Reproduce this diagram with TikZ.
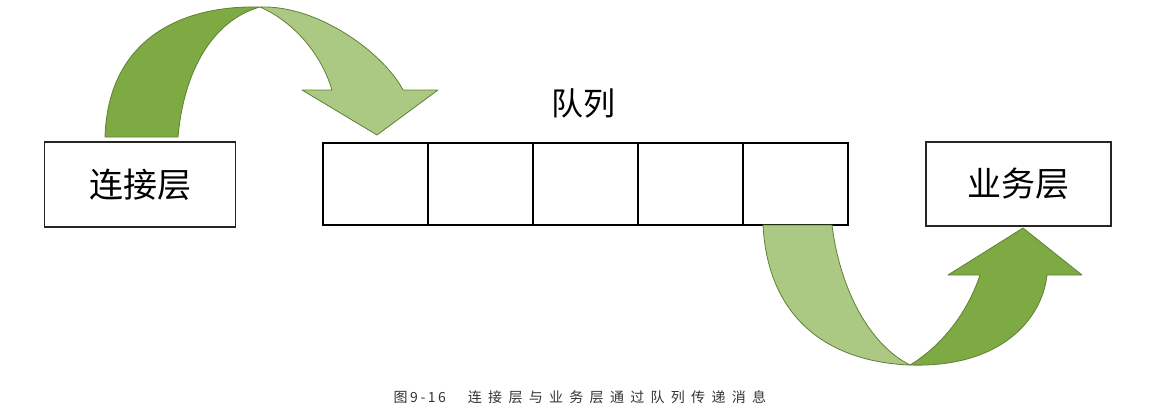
\documentclass[tikz,border=0pt]{standalone}
\usepackage{fontspec}
\setmainfont{Noto Sans CJK SC}
\newfontfamily\capfont[LetterSpace=45]{Noto Sans CJK SC}
\newfontfamily\capnumfont[LetterSpace=18]{Noto Sans CJK SC}
\usetikzlibrary{positioning}
\definecolor{leafdark}{RGB}{125,170,66}
\definecolor{leaflight}{RGB}{172,201,131}
\definecolor{leafline}{RGB}{96,128,52}

\begin{document}
\begin{tikzpicture}
            [x=1pt, y=-1pt, node distance=0pt, line width=1.4pt,
            layer/.style={rectangle, draw=black!85, minimum width=191pt, minimum height=85pt, inner sep=0pt, font=\fontsize{34}{40}\selectfont},
            cell/.style={rectangle, draw=black, minimum width=105pt, minimum height=82pt, outer sep=0pt},
            darkband/.style={fill=leafdark, draw=leafline, line width=0.8pt, line join=round},
            lightband/.style={fill=leaflight, draw=leafline, line width=0.8pt, line join=round}]

            \useasboundingbox (0,0) rectangle (1154,415);

            \node[layer] (conn) at (140,184.5) {连接层};
            \node[layer, minimum width=185pt, minimum height=84pt] (biz) at (1018.5,184) {业务层};

            \node[cell] (q1) at (375.5,184) {};
            \node[cell] (q2) [right = of q1] {};
            \node[cell] (q3) [right = of q2] {};
            \node[cell] (q4) [right = of q3] {};
            \node[cell] (q5) [right = of q4] {};
            \node[font=\fontsize{32}{36}\selectfont, inner sep=0pt] (qname) at (583,103) {队列};

            % upper arrow into the queue
            \filldraw[darkband] (105,137) .. controls (108,40) and (180,5) .. (260,7)
                .. controls (220,18) and (185,60) .. (178,137) -- cycle;
            \filldraw[lightband] (260,7) .. controls (320,5) and (385,55) .. (403,90)
                -- (438,90) -- (377,135) -- (302,90) -- (332,90)
                .. controls (320,50) and (290,20) .. (260,7) -- cycle;

            % lower arrow out of the queue
            \filldraw[lightband] (763,225) -- (832,225) .. controls (840,290) and (870,345) .. (910,365)
                .. controls (830,362) and (768,320) .. (763,225) -- cycle;
            \filldraw[darkband] (910,365) .. controls (1000,368) and (1042,320) .. (1047,275)
                -- (1082,275) -- (1023,228) -- (948,275) -- (980,275)
                .. controls (965,320) and (935,350) .. (910,365) -- cycle;

            \node[anchor=west, inner sep=0pt, text=black!80, font=\fontsize{14}{16}\selectfont] (cap) at (393,397)
                {{\capnumfont 图9-16}\hspace{22pt}{\capfont 连接层与业务层通过队列传递消息}};

        \end{tikzpicture}
\end{document}
